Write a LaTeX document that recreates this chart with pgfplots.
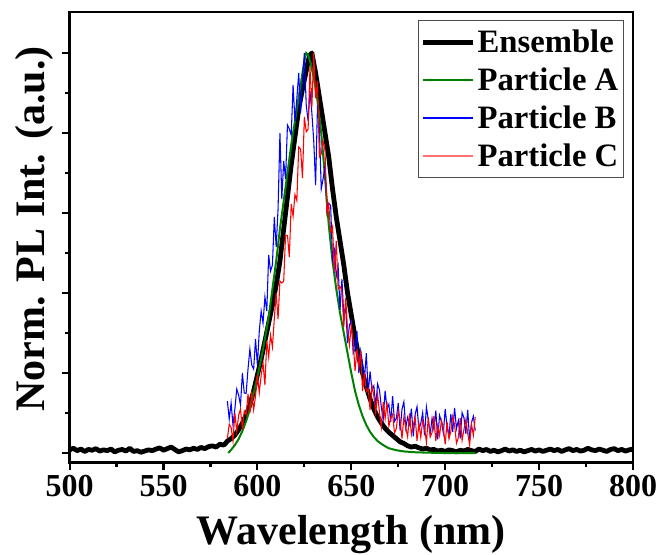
\documentclass[border=0pt]{standalone}
\usepackage{fontspec}
\setmainfont{Liberation Serif}
\usepackage{pgfplots}
\pgfplotsset{compat=1.18}
\begin{document}
\begin{tikzpicture}
\begin{axis}[
  at={(0,0)}, anchor=south west,
  scale only axis, width=422.5pt, height=337.5pt,
  xmin=500, xmax=800, ymin=-0.0225, ymax=1.1025,
  xtick={500,550,...,800}, minor x tick num=1,
  ytick={0,0.2,0.4,0.6,0.8,1.0}, minor y tick num=1, yticklabels={},
  xtick pos=bottom, ytick pos=left, tick align=outside,
  major tick length=6pt, minor tick length=3.5pt,
  every tick/.style={black, line width=1.6pt},
  axis line style={line width=2.2pt},
  /pgf/number format/assume math mode=true,
  /pgf/number format/1000 sep={},
  xticklabel style={font=\fontsize{24}{24}\selectfont\bfseries},
  xlabel={Wavelength (nm)},
  ylabel={Norm. PL Int. (a.u.)},
  xlabel style={font=\fontsize{31.5}{32}\selectfont\bfseries, at={(axis description cs:0.5,-0.184)}, anchor=base},
  ylabel style={font=\fontsize{31.5}{32}\selectfont\bfseries, at={(axis description cs:-0.062,0.518)}, anchor=center},
  legend style={at={(axis description cs:0.984,0.982)}, anchor=north east,
    draw=black!70, line width=0.6pt, font=\fontsize{24.5}{27}\selectfont\bfseries,
    row sep=6pt, inner ysep=5pt, inner xsep=2pt},
  legend cell align=left,
  legend image code/.code={\draw[#1] (0cm,0cm) -- (1.3cm,0cm);},
]
\addplot[black, line width=3.6pt, line join=round] coordinates {
(500,0.008)(502,0.012)(504,0.006)(506,0.010)(508,0.004)(510,0.009)(512,0.007)(514,0.011)(516,0.005)(518,0.008)
(520,0.006)(522,0.010)(524,0.003)(526,0.007)(528,0.009)(530,0.005)(532,0.012)(534,0.004)(536,0.006)(538,0.002)
(540,0.005)(542,0.008)(544,0.006)(546,0.010)(548,0.013)(550,0.007)(552,0.011)(554,0.015)(556,0.009)(558,0.003)
(560,0.006)(562,0.010)(564,0.008)(566,0.012)(568,0.009)(570,0.014)(572,0.011)(574,0.016)(576,0.018)(578,0.015)
(580,0.022)(582,0.020)(583,0.024)(584,0.030)(586,0.036)(588,0.045)(590,0.058)(592,0.075)(594,0.095)(596,0.12)
(598,0.155)(600,0.195)(602,0.235)(604,0.28)(606,0.325)(608,0.37)(610,0.42)(612,0.48)(614,0.56)(616,0.64)
(618,0.72)(620,0.79)(622,0.86)(624,0.91)(626,0.955)(627,0.98)(628,0.995)(629,1.0)(630,0.975)(631,0.95)
(632,0.92)(634,0.86)(636,0.80)(638,0.74)(640,0.66)(642,0.59)(644,0.53)(646,0.47)(648,0.40)(650,0.345)
(652,0.29)(654,0.24)(656,0.20)(658,0.165)(660,0.135)(662,0.11)(664,0.09)(666,0.075)(668,0.062)(670,0.052)
(672,0.044)(674,0.036)(676,0.028)(678,0.024)(680,0.018)(682,0.015)(684,0.017)(686,0.013)(688,0.010)(690,0.012)
(692,0.008)(694,0.009)(696,0.005)(698,0.007)(700,0.004)(702,0.008)(704,0.006)(706,0.003)(708,0.007)(710,0.005)
(712,0.009)(714,0.006)(716,0.004)(718,0.010)(720,0.006)(722,0.009)(724,0.004)(726,0.007)(728,0.003)(730,0.006)
(732,0.010)(734,0.005)(736,0.008)(738,0.004)(740,0.007)(742,0.003)(744,0.006)(746,0.009)(748,0.005)(750,0.008)
(752,0.004)(754,0.007)(756,0.010)(758,0.006)(760,0.009)(762,0.004)(764,0.008)(766,0.011)(768,0.006)(770,0.009)
(772,0.005)(774,0.007)(776,0.012)(778,0.008)(780,0.006)(782,0.010)(784,0.007)(786,0.004)(788,0.009)(790,0.011)
(792,0.006)(794,0.009)(796,0.005)(798,0.008)(800,0.010)
};
\addlegendentry{Ensemble}
\addplot[color={rgb,255:red,0;green,128;blue,0}, line width=1.5pt] coordinates {
(584.5,0.0)(586,0.008)(588,0.02)(590,0.035)(592,0.055)(594,0.08)(596,0.11)(598,0.15)(600,0.19)(602,0.235)
(604,0.285)(606,0.34)(608,0.41)(610,0.48)(612,0.56)(614,0.63)(616,0.70)(618,0.77)(620,0.83)(622,0.89)
(624,0.95)(625,0.98)(626,1.0)(627,0.995)(628,0.98)(630,0.94)(632,0.88)(634,0.80)(636,0.69)(638,0.57)
(640,0.48)(642,0.41)(644,0.35)(646,0.30)(648,0.25)(650,0.20)(652,0.155)(654,0.12)(656,0.092)(658,0.07)
(660,0.053)(662,0.04)(664,0.03)(666,0.023)(668,0.017)(670,0.012)(674,0.007)(678,0.004)(684,0.002)(690,0.001)
(700,0.0)(716,0.0)
};
\addlegendentry{Particle A}
\addplot[blue, line width=0.8pt, legend image post style={line width=1.1pt}] coordinates {
(584,0.13)(585,0.085)(586,0.125)(587,0.07)(588,0.11)(589,0.16)(590,0.145)(591,0.12)(592,0.20)(593,0.15)
(594,0.149)(595,0.21)(596,0.26)(597,0.22)(598,0.21)(599,0.285)(600,0.22)(601,0.305)(602,0.355)(603,0.325)
(604,0.39)(605,0.355)(606,0.495)(607,0.455)(608,0.47)(609,0.59)(610,0.515)(611,0.61)(612,0.80)(613,0.635)
(614,0.73)(615,0.685)(616,0.82)(617,0.81)(618,0.795)(619,0.92)(620,0.83)(621,0.886)(622,0.95)(623,0.85)
(624,0.935)(625,1.0)(626,0.87)(627,0.83)(628,0.905)(629,0.85)(630,0.78)(631,0.67)(632,0.87)(633,0.81)
(634,0.66)(635,0.686)(636,0.718)(637,0.605)(638,0.624)(639,0.619)(640,0.482)(641,0.507)(642,0.442)(643,0.466)
(644,0.358)(645,0.435)(646,0.344)(647,0.365)(648,0.275)(649,0.32)(650,0.33)(651,0.25)(652,0.26)(653,0.305)
(654,0.20)(655,0.255)(656,0.225)(657,0.185)(658,0.25)(659,0.15)(660,0.204)(661,0.158)(662,0.168)(663,0.117)
(664,0.173)(665,0.1575)(666,0.114)(667,0.085)(668,0.156)(669,0.111)(670,0.122)(671,0.078)(672,0.1425)(673,0.079)
(674,0.087)(675,0.125)(676,0.056)(677,0.11)(678,0.128)(679,0.063)(680,0.089)(681,0.072)(682,0.111)(683,0.042)
(684,0.097)(685,0.116)(686,0.059)(687,0.074)(688,0.101)(689,0.044)(690,0.115)(691,0.083)(692,0.047)(693,0.087)
(694,0.059)(695,0.106)(696,0.034)(697,0.094)(698,0.078)(699,0.05)(700,0.11)(701,0.066)(702,0.042)(703,0.097)
(704,0.053)(705,0.113)(706,0.061)(707,0.081)(708,0.037)(709,0.101)(710,0.088)(711,0.048)(712,0.108)(713,0.032)
(714,0.076)(715,0.092)(716,0.056)
};
\addlegendentry{Particle B}
\addplot[red, line width=0.8pt, legend image post style={color=red!55, line width=1.5pt}] coordinates {
(584,0.036)(585,0.072)(586,0.064)(587,0.03)(588,0.10)(589,0.054)(590,0.094)(591,0.11)(592,0.058)(593,0.105)
(594,0.095)(595,0.148)(596,0.10)(597,0.154)(598,0.108)(599,0.142)(600,0.196)(601,0.151)(602,0.194)(603,0.225)
(604,0.17)(605,0.28)(606,0.24)(607,0.295)(608,0.265)(609,0.335)(610,0.40)(611,0.335)(612,0.43)(613,0.425)
(614,0.43)(615,0.544)(616,0.544)(617,0.49)(618,0.622)(619,0.592)(620,0.646)(621,0.6315)(622,0.765)(623,0.76)
(624,0.687)(625,0.84)(626,0.803)(627,0.81)(628,0.965)(629,0.864)(630,1.0)(631,0.887)(632,0.93)(633,0.74)
(634,0.748)(635,0.78)(636,0.756)(637,0.601)(638,0.622)(639,0.552)(640,0.566)(641,0.452)(642,0.53)(643,0.41)
(644,0.416)(645,0.4075)(646,0.315)(647,0.3875)(648,0.31)(649,0.27)(650,0.32)(651,0.28)(652,0.205)(653,0.26)
(654,0.215)(655,0.255)(656,0.155)(657,0.2015)(658,0.153)(659,0.1605)(660,0.108)(661,0.169)(662,0.143)(663,0.10)
(664,0.147)(665,0.102)(666,0.065)(667,0.128)(668,0.0855)(669,0.127)(670,0.067)(671,0.0875)(672,0.0975)(673,0.05)
(674,0.062)(675,0.1055)(676,0.0825)(677,0.036)(678,0.09)(679,0.0645)(680,0.0405)(681,0.099)(682,0.0465)(683,0.07)
(684,0.09)(685,0.0305)(686,0.075)(687,0.039)(688,0.081)(689,0.0625)(690,0.0265)(691,0.0895)(692,0.0405)(693,0.051)
(694,0.093)(695,0.03)(696,0.0685)(697,0.044)(698,0.0815)(699,0.064)(700,0.022)(701,0.078)(702,0.036)(703,0.0535)
(704,0.092)(705,0.07)(706,0.0245)(707,0.0385)(708,0.0875)(709,0.0315)(710,0.0595)(711,0.084)(712,0.049)(713,0.02)
(714,0.0725)(715,0.0445)(716,0.09)
};
\addlegendentry{Particle C}
\end{axis}
\pgfresetboundingbox
\path[use as bounding box] (-52.2pt,-69pt) rectangle (442.75pt,346.5pt);
\end{tikzpicture}
\end{document}
